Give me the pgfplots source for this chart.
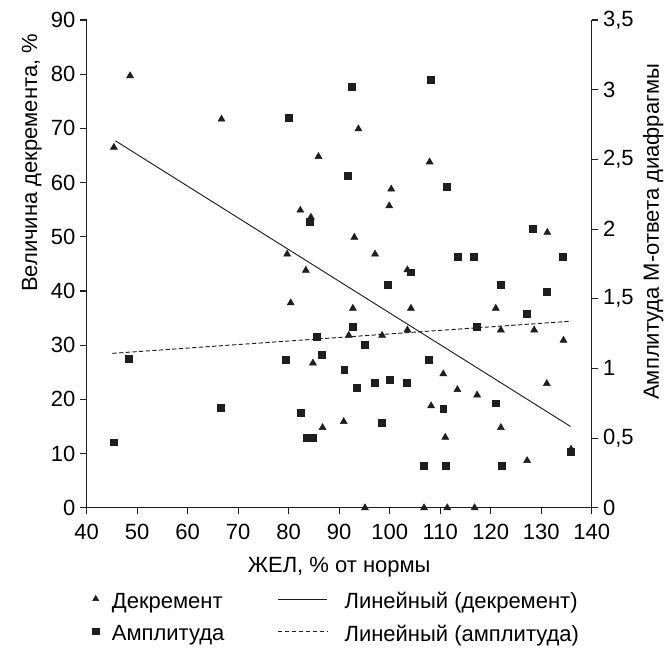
\documentclass[border=0pt]{standalone}
\usepackage{fontspec}
\setmainfont{Liberation Sans}
\usepackage{pgfplots}
\pgfplotsset{compat=1.18}

\newcommand\lbl{\fontsize{16.5}{19}\selectfont}
\definecolor{ink}{RGB}{30,30,30}

% декремент, %
\pgfplotstableread{
x y
45.4 66.5
48.6 79.7
66.7 71.7
79.7 46.8
80.4 37.8
82.3 54.9
83.4 43.8
84.4 53.6
84.8 26.7
85.9 64.8
86.7 14.8
90.9 15.9
91.9 31.8
92.7 36.8
93.0 49.9
93.8 69.9
95.1 0
97.1 46.8
98.5 31.8
99.9 55.7
100.3 58.8
103.5 32.8
103.5 43.9
104.2 36.8
106.8 0
107.9 63.8
108.2 18.8
110.6 24.7
111.0 13.0
111.4 0
113.4 21.8
116.8 0
117.3 20.8
121.0 36.8
122.0 14.8
122.0 32.8
127.2 8.7
128.6 32.8
131.1 22.9
131.2 50.8
134.4 30.9
135.9 10.8
}\decr

% амплитуда М-ответа
\pgfplotstableread{
x y
45.3 0.47
48.3 1.07
66.5 0.72
79.5 1.06
80.1 2.80
82.4 0.68
83.5 0.50
84.7 0.50
84.2 2.05
85.5 1.23
86.6 1.10
91.0 0.99
91.7 2.38
92.5 3.02
92.7 1.30
93.5 0.86
95.1 1.17
97.0 0.90
98.5 0.61
99.6 1.60
100.1 0.92
103.4 0.90
104.2 1.69
106.7 0.30
107.8 1.06
108.2 3.07
110.6 0.71
111.1 0.30
111.3 2.30
113.4 1.80
116.6 1.80
117.3 1.30
121.0 0.75
122.0 1.60
122.2 0.30
127.2 1.39
128.3 2.00
131.1 1.55
134.3 1.80
135.9 0.40
}\ampl

\pgfplotsset{
  base/.style={
    scale only axis, width=379pt, height=366pt,
    xmin=40, xmax=140,
    axis line style={-, ink, line width=0.8pt},
    tick style={ink, line width=0.8pt},
    tick align=outside, major tick length=5pt,
    ticklabel style={font=\lbl},
    label style={font=\lbl},
    /pgf/number format/assume math mode=true,
  },
  legtri/.style={legend image code/.code={
    \draw[ink, only marks, mark=triangle*, mark size=2.6pt] plot coordinates {(0.12cm,0.07cm)};
    \path (0cm,0cm) (0.47cm,0cm);}},
  legsq/.style={legend image code/.code={
    \draw[ink, only marks, mark=square*, mark size=2.3pt] plot coordinates {(0.12cm,0.08cm)};
    \path (0cm,0cm) (0.47cm,0cm);}},
  legsolid/.style={legend image code/.code={
    \draw[ink, line width=0.7pt] (0cm,0.06cm) -- (1.3cm,0.06cm);
    \path (1.3cm+10.5pt,0cm);}},
  legdash/.style={legend image code/.code={
    \draw[ink, line width=0.6pt, dash pattern=on 3pt off 2.2pt] (0cm,0.06cm) -- (1.3cm,0.06cm);
    \path (1.3cm+10.5pt,0cm);}},
}

\begin{document}
\begin{tikzpicture}
\begin{axis}[
  base,
  name=main,
  ymin=0, ymax=90,
  axis x line*=bottom, axis y line*=left,
  xtick={40,50,...,140}, ytick={0,10,...,90},
  xticklabel style={yshift=-3.5pt},
  xlabel={ЖЕЛ, \% от нормы},
  xlabel style={at={(axis description cs:0.5,-0.122)}, anchor=center},
  ylabel={Величина декремента, \%},
  ylabel style={at={(ticklabel cs:0.707)}},
  legend columns=2,
  legend cell align=left,
  legend style={
    at={(0.0,-0.162)}, anchor=north west, draw=none, font=\lbl,
    /tikz/every even column/.append style={column sep=38pt},
    row sep=6.5pt,
  },
]
  \addplot[only marks, mark=triangle*, mark size=3pt, color=ink, legtri]
    table {\decr};
  \addlegendentry{Декремент}
  \addplot[ink, line width=0.7pt, no marks, legsolid]
    coordinates {(45.7,67.7) (135.8,15.0)};
  \addlegendentry{Линейный (декремент)}
  \addlegendimage{legsq}
  \addlegendentry{Амплитуда}
  \addlegendimage{legdash}
  \addlegendentry{Линейный (амплитуда)}
\end{axis}
\begin{axis}[
  base,
  ymin=0, ymax=3.5,
  axis x line=none, axis y line*=right,
  ytick={0,0.5,...,3.5},
  /pgf/number format/use comma,
  ylabel={Амплитуда М-ответа диафрагмы},
  ylabel style={at={(ticklabel cs:0.566)}},
]
  \addplot[only marks, mark=square*, mark size=2.6pt, color=ink] table {\ampl};
  \addplot[ink, line width=0.7pt, dash pattern=on 3.2pt off 1.8pt, no marks]
    coordinates {(45.1,1.108) (135.6,1.338)};
\end{axis}
\pgfresetboundingbox
\path[use as bounding box] ([shift={(-65pt,-106.5pt)}]main.south west)
  rectangle ([shift={(60.2pt,15pt)}]main.north east);
\end{tikzpicture}
\end{document}
